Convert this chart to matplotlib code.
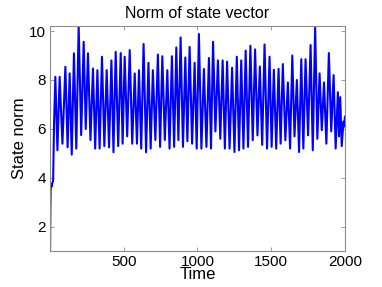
import matplotlib
matplotlib.use("Agg")
import matplotlib.pyplot as plt

# start-up transient
t_start = [1, 3, 5, 8, 12, 17, 22, 28]
y_start = [1.03, 2.6, 3.5, 3.75, 3.65, 3.8, 3.9, 6.2]

# oscillation: peaks and troughs
t_peak = [37, 66, 105, 134, 163, 195, 229, 258, 292, 322, 353, 385, 417, 446,
          480, 507, 541, 575, 604, 635, 668, 698, 732, 762, 796, 827, 857, 886,
          918, 947, 981, 1010, 1044, 1078, 1106, 1139, 1171, 1201, 1235, 1267,
          1297, 1327, 1359, 1391, 1423, 1455, 1489, 1518, 1550, 1579, 1613, 1643,
          1674, 1704, 1733, 1767, 1798, 1828, 1858, 1891, 1923, 1952, 1968]
y_peak = [8.13, 8.13, 8.54, 8.27, 9.09, 10.2, 9.56, 9.09, 8.47, 8.4, 8.95, 8.4,
          8.8, 9.15, 9.1, 8.95, 9.22, 8.27, 8.4, 9.47, 8.7, 8.4, 9.04, 8.97, 8.4,
          8.97, 9.33, 9.74, 8.92, 9.35, 8.7, 9.88, 8.45, 8.9, 9.56, 8.8, 8.8,
          8.75, 8.5, 8.95, 8.8, 9.2, 9.4, 9.25, 8.55, 9.45, 8.95, 8.42, 8.45,
          8.65, 7.9, 9.0, 8.0, 8.85, 8.85, 9.43, 10.15, 8.27, 7.9, 9.1, 8.2, 7.5,
          7.3]
t_trough = [51, 85, 120, 148, 179, 212, 243, 275, 307, 337, 369, 401, 431, 463,
            493, 524, 558, 590, 619, 652, 683, 715, 747, 779, 811, 842, 871, 902,
            932, 964, 995, 1027, 1061, 1092, 1122, 1155, 1186, 1218, 1251, 1282,
            1312, 1343, 1375, 1407, 1439, 1472, 1503, 1534, 1564, 1596, 1628, 1658,
            1689, 1718, 1750, 1782, 1813, 1843, 1874, 1907, 1937, 1960, 1978]
y_trough = [5.13, 5.4, 5.25, 4.95, 5.2, 5.75, 6.0, 5.55, 5.2, 5.2, 5.3, 5.25,
            5.05, 5.3, 5.4, 5.7, 5.4, 5.4, 5.2, 5.05, 5.2, 5.55, 5.27, 5.55, 5.2,
            5.27, 5.55, 5.27, 5.5, 5.4, 5.2, 5.2, 5.27, 5.2, 5.9, 5.6, 5.2, 5.2,
            5.06, 5.13, 5.2, 5.27, 5.54, 5.74, 5.35, 5.2, 5.27, 5.2, 5.4, 5.54,
            5.2, 5.7, 5.06, 5.2, 5.74, 5.13, 5.6, 5.95, 5.4, 5.9, 5.2, 5.7, 5.3]

# tail end
t_end = [1990, 1994, 2000]
y_end = [6.3, 6.1, 6.5]

t = list(t_start)
y = list(y_start)
for tp, yp, tt, yt in zip(t_peak, y_peak, t_trough, y_trough):
    t += [tp, tt]
    y += [yp, yt]
t += t_end
y += y_end

plt.rcParams['font.family'] = ['Liberation Sans', 'DejaVu Sans']

fig = plt.figure(figsize=(3.82, 2.87), dpi=100)
ax = fig.add_axes([0.131, 0.1265, 0.772, 0.7825])
ax.plot(t, y, color='#0000ff', lw=1.5)

ax.set_xlim(min(t), max(t))
ax.set_ylim(min(y), max(y))
ax.set_xticks([500, 1000, 1500, 2000])
ax.set_yticks([2, 4, 6, 8, 10])

ax.set_title('Norm of state vector', fontsize=11.5, pad=6)
ax.set_xlabel('Time', fontsize=12, labelpad=-1)
ax.set_ylabel('State norm', fontsize=12, labelpad=1)

for s in ax.spines.values():
    s.set_color('#8c8c8c')
    s.set_linewidth(0.8)
ax.tick_params(direction='in', top=True, right=True, length=3, width=0.6,
               color='#8c8c8c', labelsize=11, pad=3)

fig.savefig('out.png', dpi=100)
